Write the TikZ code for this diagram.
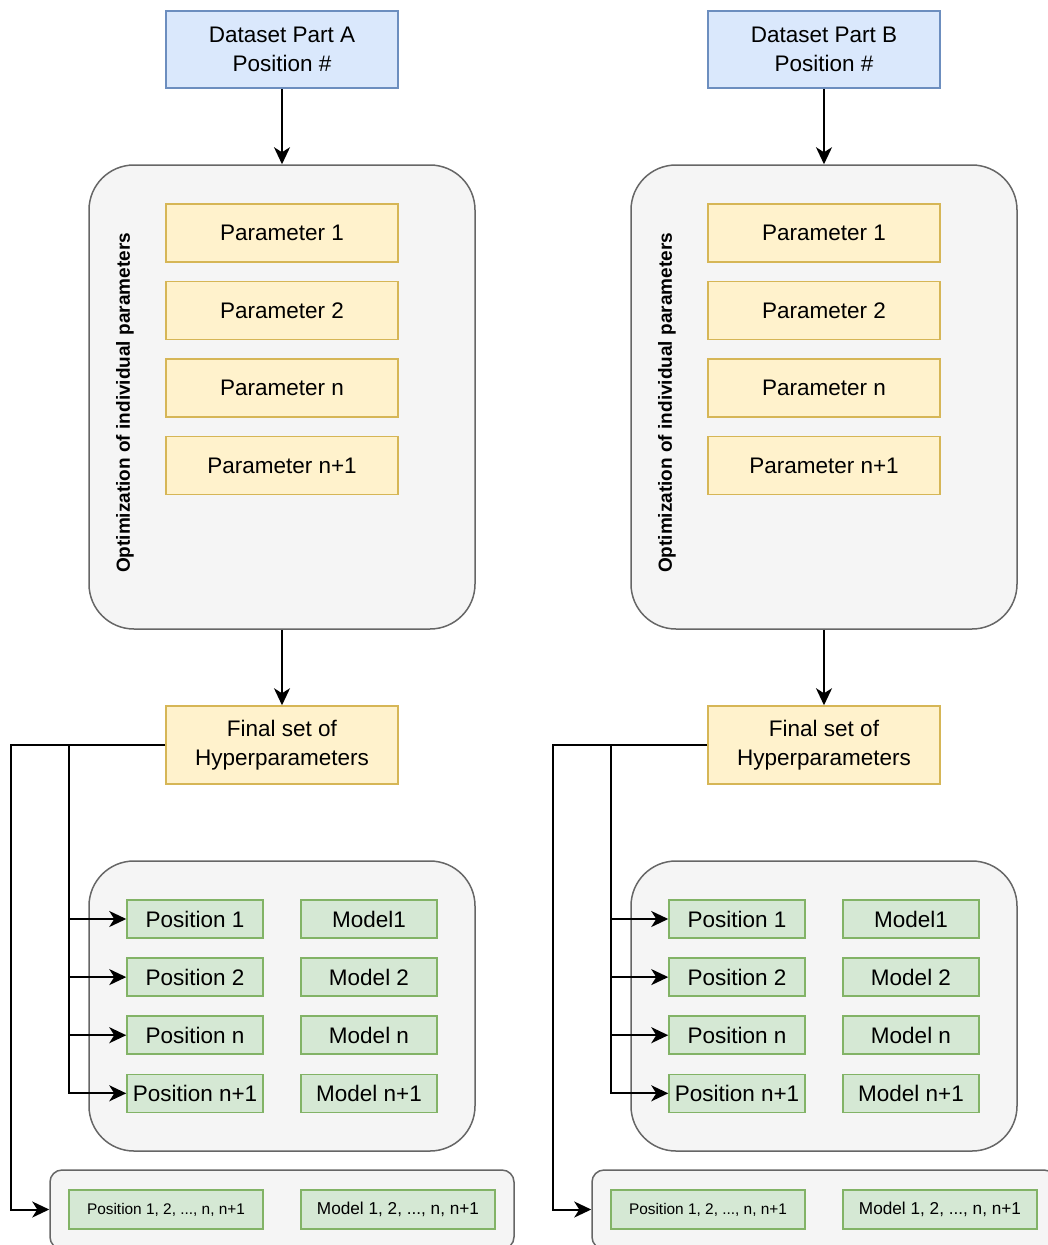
\documentclass[tikz,border=0pt]{standalone}
\usepackage{fontspec}
\setmainfont{Liberation Sans}
\usetikzlibrary{arrows.meta,positioning}

\definecolor{dataFill}{HTML}{DAE8FC}
\definecolor{dataLine}{HTML}{6C8EBF}
\definecolor{paramFill}{HTML}{FFF2CC}
\definecolor{paramLine}{HTML}{D6B656}
\definecolor{posFill}{HTML}{D5E8D4}
\definecolor{posLine}{HTML}{82B366}
\definecolor{groupFill}{HTML}{F5F5F5}
\definecolor{groupLine}{HTML}{666666}

\tikzset{
  bigfont/.style={font=\fontsize{22.5}{29}\selectfont},
  databox/.style={draw=dataLine, fill=dataFill, line width=1.5pt,
    minimum width=232pt, minimum height=77pt, align=center, bigfont},
  parambox/.style={draw=paramLine, fill=paramFill, line width=1.5pt,
    minimum width=232pt, minimum height=58pt, align=center, bigfont},
  posbox/.style={draw=posLine, fill=posFill, line width=1.5pt, inner sep=1pt,
    minimum width=136pt, minimum height=38pt, bigfont},
  groupbox/.style={draw=groupLine, fill=groupFill, line width=1.5pt,
    rounded corners=45pt, minimum width=386pt},
  conn/.style={line width=2pt, -{Stealth[length=17pt,width=16pt,inset=5pt]}},
}

\begin{document}
\begin{tikzpicture}[x=1pt,y=-1pt]
  \useasboundingbox (0,0) rectangle (1048,1245);
  \clip (0,0) rectangle (1048,1245);

  \foreach \s/\dx/\part in {a/0/A, b/542/B}{
    % input data
    \node[databox] (data\s) at (282+\dx,49.5) {Dataset Part \part\\Position \#};

    % optimization stage
    \node[groupbox, minimum height=464pt] (optbox\s) at (282+\dx,397) {};
    \node[rotate=90, font=\fontsize{19}{23}\selectfont\bfseries]
                    (optlabel\s) at (125+\dx,403) {Optimization of individual parameters};
    \node[parambox] (param\s1) at (282+\dx,233) {Parameter 1};
    \node[parambox, below=18pt of param\s1] (param\s2) {Parameter 2};
    \node[parambox, below=18pt of param\s2] (param\s3) {Parameter n};
    \node[parambox, below=18pt of param\s3] (param\s4) {Parameter n+1};

    \node[parambox, minimum height=78pt] (final\s) at (282+\dx,745)
                    {Final set of\\Hyperparameters};

    % per position models
    \node[groupbox, minimum height=290pt] (modbox\s) at (282+\dx,1006) {};
    \node[posbox] (pos\s1) at (195+\dx,919) {Position 1};
    \node[posbox, below=18.6pt of pos\s1] (pos\s2) {Position 2};
    \node[posbox, below=18.6pt of pos\s2] (pos\s3) {Position n};
    \node[posbox, below=18.6pt of pos\s3] (pos\s4) {Position n+1};
    \node[posbox, right=36.5pt of pos\s1] (model\s1) {Model1};
    \node[posbox, right=36.5pt of pos\s2] (model\s2) {Model 2};
    \node[posbox, right=36.5pt of pos\s3] (model\s3) {Model n};
    \node[posbox, right=36.5pt of pos\s4] (model\s4) {Model n+1};

    % one model for all positions
    \node[groupbox, rounded corners=12pt, minimum width=464pt, minimum height=79pt]
                    (allbox\s) at (282+\dx,1209.5) {};
    \node[posbox, minimum width=194pt, minimum height=39pt,
          font=\fontsize{15.4}{18}\selectfont] (allpos\s) at (166+\dx,1209.5)
                    {Position 1, 2, ..., n, n+1};
    \node[posbox, minimum width=194pt, minimum height=39pt,
          font=\fontsize{17.2}{20}\selectfont] (allmod\s) at (398+\dx,1209.5)
                    {Model 1, 2, ..., n, n+1};

    % connectors
    \coordinate (outer\s) at (11+\dx,745);
    \coordinate (bus\s) at (69+\dx,745);
    \draw[conn] (data\s.south) -- (optbox\s.north);
    \draw[conn] (optbox\s.south) -- (final\s.north);
    \draw[conn] (final\s.west) -- (outer\s) |- (allbox\s.west);
    \foreach \i in {1,...,4}
      \draw[conn] (bus\s) |- (pos\s\i.west);
  }
\end{tikzpicture}
\end{document}
